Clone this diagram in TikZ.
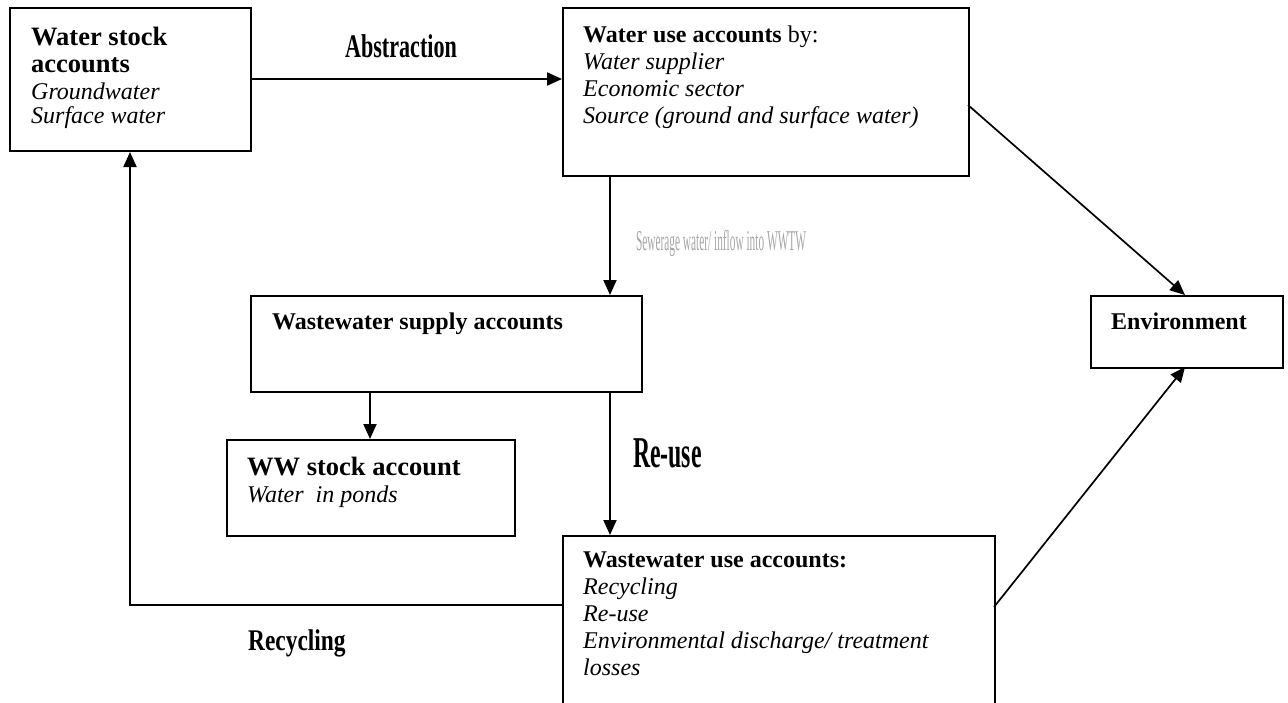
\documentclass[tikz,border=0pt]{standalone}
\usepackage{fontspec}
\setmainfont{Liberation Serif}
\usetikzlibrary{arrows.meta}
\tikzset{
  box/.style={draw, line width=2pt, inner sep=0pt, anchor=north west},
  bt/.style={anchor=base west, inner sep=0pt, font=\fontsize{24}{27}\selectfont\bfseries},
  bigbt/.style={anchor=base west, inner sep=0pt, font=\fontsize{26.5}{30}\selectfont\bfseries},
  it/.style={anchor=base west, inner sep=0pt, font=\fontsize{24}{27}\selectfont\itshape},
  conn/.style={line width=2pt, -{Triangle[length=15pt,width=13pt]}},
  thin conn/.style={line width=1.7pt, -{Triangle[length=15pt,width=13pt]}},
  lbl/.style={anchor=base west, inner sep=0pt, font=\bfseries},
}
\begin{document}
\begin{tikzpicture}[x=1pt,y=-1pt]
\useasboundingbox (0,0) rectangle (1288,702);
\clip (0,0) rectangle (1288,702);

% boxes
\node[box, minimum width=241pt, minimum height=143pt] (A) at (9,7) {};
\node[box, minimum width=406pt, minimum height=168pt] (B) at (562,7) {};
\node[box, minimum width=192pt, minimum height=72pt] (E) at (1090,295) {};
\node[box, minimum width=391pt, minimum height=96pt] (S) at (250,295) {};
\node[box, minimum width=288pt, minimum height=96pt] (W) at (226,439) {};
\node[box, minimum width=432pt, minimum height=220pt] (U) at (562,535) {};

% texts
\node[bigbt] (A1) at (31,45) {Water stock};
\node[bigbt] (A2) at (31,72) {accounts};
\node[it] (A3) at (31,99) {Groundwater};
\node[it] (A4) at (31,123) {Surface water};

\node[bt] (B1) at (583,42) {Water use accounts\mdseries\ by:};
\node[it] (B2) at (583,69) {Water supplier};
\node[it] (B3) at (583,96) {Economic sector};
\node[it] (B4) at (583,123) {Source (ground and surface water)};

\node[bt] (E1) at (1111,329) {Environment};
\node[bt] (S1) at (272,329) {Wastewater supply accounts};

\node[bigbt] (W1) at (247,475) {WW stock account};
\node[it] (W2) at (247,502) {Water\ \ in ponds};

\node[bt] (U1) at (583,567) {Wastewater use accounts:};
\node[it] (U2) at (583,594) {Recycling};
\node[it] (U3) at (583,621) {Re-use};
\node[it] (U4) at (583,648) {Environmental discharge/ treatment};
\node[it] (U5) at (583,675) {losses};

% connector labels
\node[lbl, font=\bfseries\fontsize{33}{36}\selectfont, xscale=0.67] (Lab) at (345,57) {Abstraction};
\node[lbl, font=\bfseries\fontsize{44}{48}\selectfont, xscale=0.54] (Lre) at (633,467) {Re-use};
\node[lbl, font=\bfseries\fontsize{30}{33}\selectfont, xscale=0.78] (Lrc) at (248,650) {Recycling};
\node[anchor=base west, inner sep=0pt, font=\fontsize{28.7}{30}\selectfont, xscale=0.395, text=gray!70] (Ls) at (636,250) {Sewerage water/ inflow into WWTW};

% connectors
\coordinate (ab1) at (250,79);
\coordinate (ab2) at (562,79);
\draw[conn] (ab1) -- (ab2);

\draw[conn] (B.south -| 610,0) -- (S.north -| 610,0);
\draw[conn] (S.south -| 370,0) -- (W.north -| 370,0);
\draw[conn] (S.south -| 610,0) -- (U.north -| 610,0);

\coordinate (bd) at (968,105);
\coordinate (ed1) at (1185,295);
\draw[thin conn] (bd) -- (ed1);

\coordinate (ud) at (994,607);
\coordinate (ed2) at (1185,367);
\draw[thin conn] (ud) -- (ed2);

\coordinate (rc1) at (562,605);
\coordinate (rc2) at (130,605);
\draw[conn] (rc1) -- (rc2) -- (A.south -| rc2);
\end{tikzpicture}
\end{document}
